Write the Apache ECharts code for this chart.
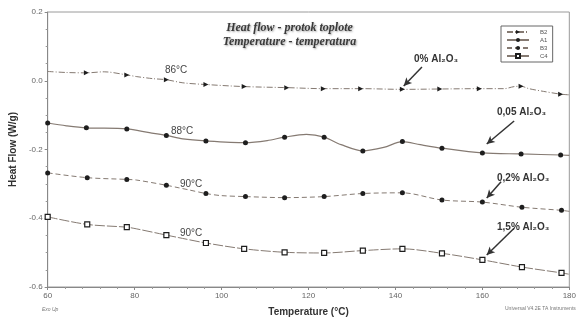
<!DOCTYPE html>
<html>
<head>
<meta charset="utf-8">
<script src="https://cdn.jsdelivr.net/npm/echarts@6/dist/echarts.min.js"></script>
<style>
  html, body { margin: 0; padding: 0; background: #fff; }
  #chart { width: 579px; height: 322px; }
</style>
</head>
<body>
<div id="chart"></div>
<script>
// 0% Al2O3
var tempB2 = [60, 64.3, 68.9, 73, 78.2, 80.5, 84.3, 87.3, 91.1, 96.4, 105.2, 115, 123.4, 132, 141.6, 150.2, 159.3, 165, 167.3, 168.9, 170.7, 174.1, 178, 180];
var flowB2 = [0.027, 0.024, 0.023, 0.026, 0.017, 0.012, 0.006, 0.003, -0.006, -0.011, -0.017, -0.020, -0.023, -0.023, -0.025, -0.024, -0.023, -0.023, -0.017, -0.016, -0.023, -0.031, -0.039, -0.041];
var markB2 = [68.9, 78.2, 87.3, 96.4, 105.2, 115, 123.4, 132, 141.6, 150.2, 159.3, 168.9, 178];

// 0,05 Al2O3
var tempA1 = [60, 64.3, 68.9, 78.2, 83.4, 87.3, 91.1, 96.4, 105.5, 110.5, 114.5, 119.5, 123.6, 127.5, 132.5, 137.3, 141.6, 145.7, 150.7, 160, 168.9, 178, 180];
var flowA1 = [-0.123, -0.131, -0.137, -0.140, -0.151, -0.159, -0.169, -0.175, -0.180, -0.174, -0.164, -0.156, -0.164, -0.186, -0.204, -0.194, -0.177, -0.186, -0.196, -0.210, -0.213, -0.216, -0.217];
var markA1 = [60, 68.9, 78.2, 87.3, 96.4, 105.5, 114.5, 123.6, 132.5, 141.6, 150.7, 160, 168.9, 178];

// 0,2% Al2O3
var tempB3 = [60, 69.1, 78.2, 80.5, 87.3, 90, 92.3, 96.4, 99.8, 105.5, 114.5, 123.6, 132.5, 141.6, 150.7, 160, 169.1, 178.2, 180];
var flowB3 = [-0.268, -0.282, -0.287, -0.289, -0.304, -0.311, -0.317, -0.328, -0.334, -0.337, -0.340, -0.337, -0.328, -0.326, -0.347, -0.353, -0.368, -0.377, -0.380];
var markB3 = [60, 69.1, 78.2, 87.3, 96.4, 105.5, 114.5, 123.6, 132.5, 141.6, 150.7, 160, 169.1, 178.2];

// 1,5% Al2O3
var tempC4 = [60, 69.1, 78.2, 80.5, 87.3, 90, 96.4, 105.2, 114.5, 123.6, 132.5, 141.6, 150.7, 160, 169.1, 178.2, 180];
var flowC4 = [-0.396, -0.418, -0.426, -0.431, -0.449, -0.456, -0.472, -0.489, -0.499, -0.501, -0.494, -0.489, -0.502, -0.521, -0.542, -0.559, -0.563];
var markC4 = [60, 69.1, 78.2, 87.3, 96.4, 105.2, 114.5, 123.6, 132.5, 141.6, 150.7, 160, 169.1, 178.2];

var seriesNames = ["B2", "A1", "B3", "C4"];
var xTicks = [60, 80, 100, 120, 140, 160, 180];
var yTicks = [0.2, 0.0, -0.2, -0.4, -0.6];

// arrows: [from, to] in data coords
var arrowB2 = [[146.1, 0.040], [141.9, -0.015]];
var arrowA1 = [[167.3, -0.117], [161.0, -0.184]];
var arrowB3 = [[164.3, -0.294], [161.0, -0.341]];
var arrowC4 = [[167.3, -0.429], [161.0, -0.507]];

var lineColor = "#857a72";
var markColor = "#1e1e1e";

function buildData(t, f, m) {
  return t.map(function (x, i) {
    var item = { value: [x, f[i]] };
    if (m.indexOf(x) < 0) item.symbol = "none";
    return item;
  });
}

function arrowLine(a) {
  return {
    silent: true,
    symbol: ["none", "arrow"],
    symbolSize: [6, 8],
    label: { show: false },
    lineStyle: { color: "#333", width: 1.5, type: "solid" },
    data: [[{ coord: a[0] }, { coord: a[1] }]]
  };
}

var chart = echarts.init(document.getElementById("chart"));
chart.setOption({
  animation: false,
  backgroundColor: "#fff",
  textStyle: { fontFamily: "Liberation Sans, Arial, sans-serif" },
  grid: {
    left: 43,
    right: 8,
    top: 12,
    bottom: 30,
    show: true,
    borderColor: "#9a9a9a",
    borderWidth: 1
  },
  legend: {
    orient: "vertical",
    left: 501,
    top: 26,
    itemWidth: 22,
    itemHeight: 5,
    itemGap: 2,
    padding: [3, 5, 3, 5],
    borderColor: "#666",
    borderWidth: 1,
    textStyle: { fontSize: 6, color: "#555", padding: [0, 0, 0, 6] },
    data: seriesNames
  },
  xAxis: {
    type: "value",
    min: 60,
    max: 180,
    interval: 20,
    name: "Temperature (°C)",
    nameLocation: "middle",
    nameGap: 20,
    nameTextStyle: { fontSize: 10, fontWeight: "bold", color: "#333" },
    axisLine: { onZero: false, lineStyle: { color: "#888" } },
    axisTick: { length: 3, lineStyle: { color: "#888" } },
    minorTick: { show: true, splitNumber: 5, length: 2, lineStyle: { color: "#999" } },
    axisLabel: {
      fontSize: 8,
      color: "#666",
      margin: 5,
      formatter: function (v) { return xTicks.indexOf(v) >= 0 ? String(v) : ""; }
    },
    splitLine: { show: false }
  },
  yAxis: {
    type: "value",
    min: -0.6,
    max: 0.2,
    interval: 0.2,
    name: "Heat Flow (W/g)",
    nameLocation: "middle",
    nameGap: 26,
    nameTextStyle: { fontSize: 10, fontWeight: "bold", color: "#333" },
    axisLine: { show: true, onZero: false, lineStyle: { color: "#888" } },
    axisTick: { show: true, length: 3, lineStyle: { color: "#888" } },
    minorTick: { show: true, splitNumber: 4, length: 2, lineStyle: { color: "#999" } },
    axisLabel: {
      fontSize: 8,
      color: "#666",
      margin: 5,
      formatter: function (v) {
        var r = Math.round(v * 10) / 10;
        return yTicks.indexOf(r) >= 0 ? r.toFixed(1) : "";
      }
    },
    splitLine: { show: false }
  },
  graphic: [
    {
      type: "text", left: "center", top: 21,
      style: {
        text: "Heat flow - protok toplote\nTemperature - temperatura",
        font: "italic bold 12px 'Liberation Serif', serif",
        fill: "#3a3a3a", textAlign: "center", lineHeight: 14,
        textShadowColor: "rgba(0,0,0,0.35)", textShadowBlur: 2, textShadowOffsetX: 1, textShadowOffsetY: 1
      },
      x: 300
    },
    { type: "text", x: 165, y: 65, style: { text: "86°C", font: "10px 'Liberation Sans', sans-serif", fill: "#444" } },
    { type: "text", x: 171, y: 126, style: { text: "88°C", font: "10px 'Liberation Sans', sans-serif", fill: "#444" } },
    { type: "text", x: 180, y: 179, style: { text: "90°C", font: "10px 'Liberation Sans', sans-serif", fill: "#444" } },
    { type: "text", x: 180, y: 228, style: { text: "90°C", font: "10px 'Liberation Sans', sans-serif", fill: "#444" } },
    { type: "text", x: 414, y: 54, style: { text: "0% Al₂O₃", font: "bold 10px 'Liberation Sans', sans-serif", fill: "#333" } },
    { type: "text", x: 497, y: 107, style: { text: "0,05 Al₂O₃", font: "bold 10px 'Liberation Sans', sans-serif", fill: "#333" } },
    { type: "text", x: 497, y: 173, style: { text: "0,2% Al₂O₃", font: "bold 10px 'Liberation Sans', sans-serif", fill: "#333" } },
    { type: "text", x: 497, y: 222, style: { text: "1,5% Al₂O₃", font: "bold 10px 'Liberation Sans', sans-serif", fill: "#333" } },
    { type: "text", x: 42, y: 307, style: { text: "Exo Up", font: "italic 5px 'Liberation Sans', sans-serif", fill: "#777" } },
    { type: "text", x: 505, y: 306, style: { text: "Universal V4.2E TA Instruments", font: "5px 'Liberation Sans', sans-serif", fill: "#777" } }
  ],
  series: [
    {
      name: seriesNames[0],
      type: "line",
      smooth: 0.3,
      symbol: "triangle",
      symbolRotate: -90,
      symbolSize: 5,
      lineStyle: { color: lineColor, width: 1, type: [6, 2, 1, 2] },
      itemStyle: { color: markColor },
      data: buildData(tempB2, flowB2, markB2),
      markLine: arrowLine(arrowB2)
    },
    {
      name: seriesNames[1],
      type: "line",
      smooth: 0.3,
      symbol: "circle",
      symbolSize: 5,
      lineStyle: { color: lineColor, width: 1.2, type: "solid" },
      itemStyle: { color: markColor },
      data: buildData(tempA1, flowA1, markA1),
      markLine: arrowLine(arrowA1)
    },
    {
      name: seriesNames[2],
      type: "line",
      smooth: 0.3,
      symbol: "circle",
      symbolSize: 5,
      lineStyle: { color: lineColor, width: 1, type: [5, 3] },
      itemStyle: { color: markColor },
      data: buildData(tempB3, flowB3, markB3),
      markLine: arrowLine(arrowB3)
    },
    {
      name: seriesNames[3],
      type: "line",
      smooth: 0.3,
      symbol: "rect",
      symbolSize: 5,
      lineStyle: { color: lineColor, width: 1, type: [10, 2] },
      itemStyle: { color: "#fff", borderColor: markColor, borderWidth: 1.2 },
      data: buildData(tempC4, flowC4, markC4),
      markLine: arrowLine(arrowC4)
    }
  ]
});
</script>
</body>
</html>
